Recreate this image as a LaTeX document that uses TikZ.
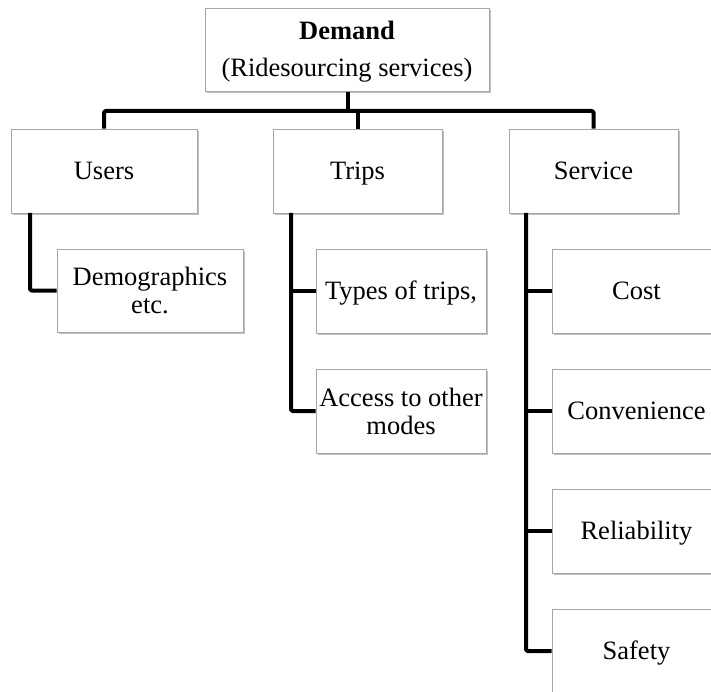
\documentclass[tikz,border=0pt]{standalone}
\usepackage{fontspec}
\setmainfont{Liberation Serif}
\usetikzlibrary{shadows}
\tikzset{
  box/.style={draw=gray!70, line width=0.9pt, fill=white, align=center,
    inner sep=0pt, minimum height=84pt,
    font=\fontsize{26.5}{28}\selectfont,
    drop shadow={shadow xshift=1.5pt, shadow yshift=-2pt, fill=black, opacity=0.25}},
  oneline/.style={text height=17.5pt, text depth=0pt},
  link/.style={line width=4pt, line join=round, rounded corners=1.5pt}
}
\begin{document}
\begin{tikzpicture}[x=1pt, y=-1pt]
  \useasboundingbox (0,0) rectangle (711,692);
  \clip (0,0) rectangle (711,692);

  % top level (the strut on the first line nudges the text block down a little)
  \node[box, minimum width=284pt, minimum height=83pt] (demand) at (347,50)
    {\rule{0pt}{22pt}\textbf{Demand}\\[9pt](Ridesourcing services)};

  % second level
  \node[box, oneline, minimum width=186pt] (users)   at (104,171)   {Users};
  \node[box, oneline, minimum width=169pt] (trips)   at (357.5,171) {Trips};
  \node[box, oneline, minimum width=169pt] (service) at (593.5,171) {Service};

  % third level
  \node[box, minimum width=186pt, minimum height=83pt] (demo) at (150,290.5) {Demographics\\etc.};
  \node[box, oneline, minimum width=170pt] (types)  at (401,291) {Types of trips,};
  \node[box, minimum width=170pt] (access) at (401,411) {Access to other\\modes};
  \node[box, oneline, minimum width=169pt] (cost)   at (636.5,291) {Cost};
  \node[box, oneline, minimum width=169pt] (conv)   at (636.5,411) {Convenience};
  \node[box, oneline, minimum width=169pt] (rel)    at (636.5,531) {Reliability};
  \node[box, oneline, minimum width=169pt] (safe)   at (636.5,651) {Safety};

  % bus and spines
  \coordinate (bus) at (0,111);
  \coordinate (uspine) at (30,213);
  \coordinate (tspine) at (291,213);
  \coordinate (sspine) at (526,213);

  \draw[link] ([xshift=1pt]demand.south) -- ([xshift=1pt]demand.south |- bus);
  \draw[link] (users.north) -- (users.north |- bus) -- (service.north |- bus) -- (service.north);
  \draw[link] (trips.north |- bus) -- (trips.north);

  \draw[link] (uspine) |- (demo.west);

  \draw[link] (tspine) |- (access.west);
  \draw[link] (tspine |- types.west) -- (types.west);

  \draw[link] (sspine) |- (safe.west);
  \draw[link] (sspine |- cost.west) -- (cost.west);
  \draw[link] (sspine |- conv.west) -- (conv.west);
  \draw[link] (sspine |- rel.west) -- (rel.west);
\end{tikzpicture}
\end{document}
